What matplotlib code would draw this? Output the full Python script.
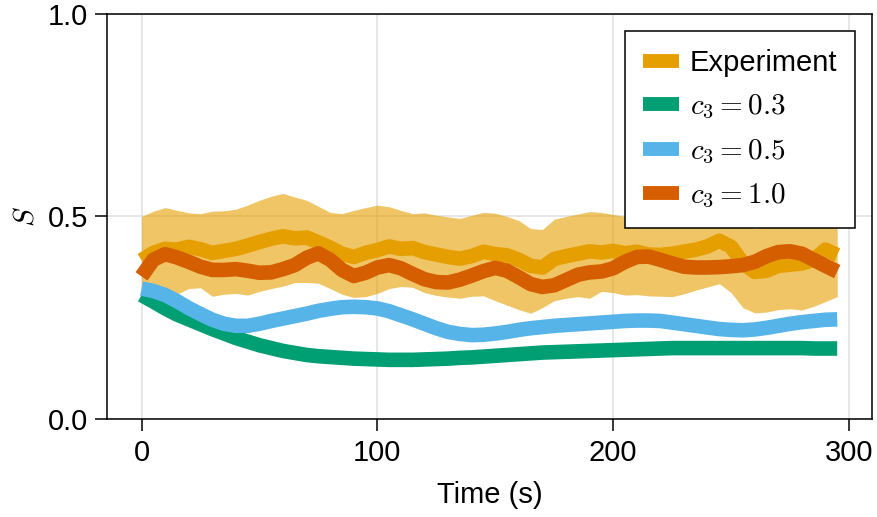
import numpy as np
import matplotlib
matplotlib.use("Agg")
import matplotlib.pyplot as plt
from matplotlib.lines import Line2D

plt.rcParams['font.family'] = ['Liberation Sans', 'DejaVu Sans']
plt.rcParams['mathtext.fontset'] = 'cm'

# time axis (s), one sample every 5 s
t = np.arange(0, 300, 5)

exp_mean = [0.392, 0.410, 0.420, 0.418, 0.425, 0.419, 0.410, 0.415, 0.420, 0.428,
            0.437, 0.445, 0.451, 0.446, 0.448, 0.436, 0.423, 0.408, 0.400, 0.410,
            0.417, 0.426, 0.420, 0.422, 0.412, 0.406, 0.400, 0.396, 0.402, 0.413,
            0.407, 0.404, 0.393, 0.378, 0.374, 0.395, 0.402, 0.408, 0.414, 0.411,
            0.415, 0.409, 0.413, 0.406, 0.405, 0.408, 0.413, 0.418, 0.426, 0.440,
            0.425, 0.385, 0.363, 0.366, 0.378, 0.381, 0.384, 0.393, 0.418, 0.405]
exp_upper = [0.500, 0.513, 0.522, 0.515, 0.509, 0.507, 0.513, 0.514, 0.518, 0.528,
             0.540, 0.550, 0.557, 0.548, 0.540, 0.525, 0.510, 0.507, 0.515, 0.522,
             0.528, 0.524, 0.515, 0.507, 0.509, 0.503, 0.499, 0.495, 0.503, 0.510,
             0.508, 0.500, 0.490, 0.470, 0.468, 0.493, 0.500, 0.506, 0.512, 0.510,
             0.505, 0.500, 0.497, 0.495, 0.495, 0.497, 0.500, 0.505, 0.510, 0.515,
             0.508, 0.490, 0.470, 0.475, 0.485, 0.490, 0.492, 0.495, 0.500, 0.503]
exp_lower = [0.285, 0.293, 0.300, 0.308, 0.322, 0.324, 0.303, 0.308, 0.310, 0.306,
             0.315, 0.322, 0.328, 0.337, 0.337, 0.335, 0.322, 0.308, 0.300, 0.302,
             0.310, 0.322, 0.327, 0.325, 0.312, 0.305, 0.301, 0.298, 0.303, 0.304,
             0.292, 0.281, 0.270, 0.261, 0.275, 0.292, 0.298, 0.302, 0.298, 0.315,
             0.312, 0.306, 0.307, 0.304, 0.303, 0.302, 0.309, 0.318, 0.326, 0.334,
             0.312, 0.275, 0.262, 0.264, 0.270, 0.272, 0.269, 0.278, 0.290, 0.302]

s_c03 = [0.306, 0.290, 0.273, 0.258, 0.246, 0.234, 0.222, 0.211, 0.200, 0.191,
         0.182, 0.175, 0.168, 0.163, 0.158, 0.155, 0.153, 0.151, 0.149, 0.148,
         0.147, 0.146, 0.146, 0.146, 0.147, 0.148, 0.149, 0.151, 0.152, 0.154,
         0.156, 0.158, 0.160, 0.162, 0.164, 0.165, 0.166, 0.167, 0.168, 0.169,
         0.170, 0.171, 0.172, 0.173, 0.174, 0.175, 0.175, 0.175, 0.175, 0.175,
         0.175, 0.175, 0.175, 0.175, 0.175, 0.175, 0.175, 0.174, 0.174, 0.174]
s_c05 = [0.322, 0.316, 0.306, 0.291, 0.274, 0.259, 0.245, 0.235, 0.230, 0.230,
         0.235, 0.242, 0.248, 0.254, 0.260, 0.267, 0.272, 0.276, 0.277, 0.276,
         0.273, 0.266, 0.256, 0.246, 0.235, 0.224, 0.215, 0.210, 0.207, 0.208,
         0.211, 0.215, 0.220, 0.224, 0.227, 0.230, 0.232, 0.234, 0.236, 0.238,
         0.240, 0.242, 0.243, 0.243, 0.242, 0.238, 0.234, 0.230, 0.226, 0.222,
         0.220, 0.219, 0.221, 0.225, 0.230, 0.235, 0.239, 0.242, 0.245, 0.246]
s_c10 = [0.352, 0.393, 0.407, 0.399, 0.388, 0.376, 0.368, 0.368, 0.370, 0.366,
         0.361, 0.362, 0.370, 0.380, 0.398, 0.409, 0.393, 0.368, 0.353, 0.361,
         0.374, 0.380, 0.372, 0.358, 0.345, 0.338, 0.337, 0.344, 0.354, 0.365,
         0.373, 0.366, 0.350, 0.333, 0.326, 0.330, 0.343, 0.356, 0.362, 0.364,
         0.372, 0.388, 0.400, 0.401, 0.393, 0.384, 0.376, 0.374, 0.374, 0.375,
         0.377, 0.380, 0.388, 0.402, 0.412, 0.414, 0.408, 0.393, 0.378, 0.364]

c_exp = '#E69F00'
c_03 = '#009E73'
c_05 = '#56B4E9'
c_10 = '#D55E00'
lw = 10.5
fs = 21

fig = plt.figure(figsize=(8.77, 5.17), dpi=100)
ax = fig.add_axes([0.1217, 0.1896, 0.8726, 0.7834])

ax.fill_between(t, exp_lower, exp_upper, color=c_exp, alpha=0.6, lw=0)
ax.plot(t, exp_mean, color=c_exp, lw=lw, solid_capstyle='butt')
ax.plot(t, s_c03, color=c_03, lw=lw, solid_capstyle='butt')
ax.plot(t, s_c05, color=c_05, lw=lw, solid_capstyle='butt')
ax.plot(t, s_c10, color=c_10, lw=lw, solid_capstyle='butt')

ax.set_xlim(-14.75, 309.75)
ax.set_ylim(0, 1)
ax.set_xticks([0, 100, 200, 300])
ax.set_yticks([0.0, 0.5, 1.0])
ax.set_yticklabels(['0.0', '0.5', '1.0'])
ax.grid(True, color='#e0e0e0', lw=1.1)
ax.set_axisbelow(True)
for sp in ax.spines.values():
    sp.set_linewidth(1.1)
ax.tick_params(direction='out', length=8.5, width=1.1, labelsize=fs)
ax.tick_params(axis='x', pad=6)
ax.tick_params(axis='y', pad=5)

ax.set_xlabel('Time (s)', fontsize=fs, labelpad=10)
ax.set_ylabel('$S$', fontsize=fs, labelpad=6)

handles = [Line2D([], [], color=c, lw=10, solid_capstyle='butt')
           for c in [c_exp, c_03, c_05, c_10]]
labels = ['Experiment', '$c_3 = 0.3$', '$c_3 = 0.5$', '$c_3 = 1.0$']
leg = ax.legend(handles, labels, loc='upper right', fontsize=fs,
                handlelength=1.25, handletextpad=0.35, labelspacing=0.53,
                borderpad=0.6, borderaxespad=0.6, fancybox=False,
                framealpha=1, edgecolor='black')
leg.get_frame().set_linewidth(1.1)

fig.savefig('out.png', dpi=100)
